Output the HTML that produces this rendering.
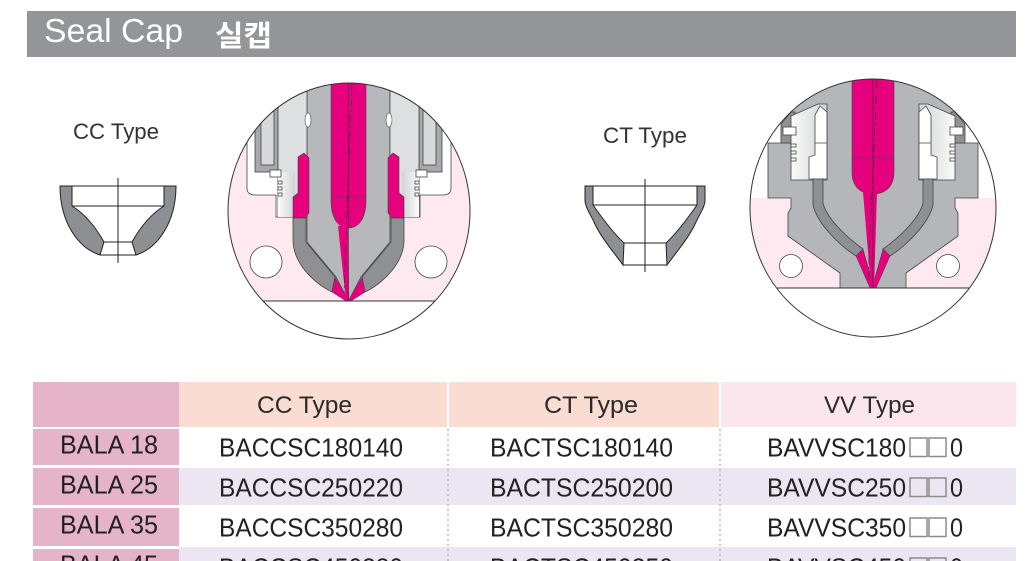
<!DOCTYPE html>
<html><head><meta charset="utf-8"><style>
html,body{margin:0;padding:0;background:#fff;}
svg{display:block;}
text{font-family:"Liberation Sans","Noto Sans CJK KR",sans-serif;}
</style></head><body>
<svg width="1029" height="561" viewBox="0 0 1029 561" xmlns="http://www.w3.org/2000/svg">
<defs>
<clipPath id="c1"><ellipse cx="349" cy="211" rx="121" ry="128"/></clipPath>
<clipPath id="c2"><ellipse cx="873" cy="208" rx="123" ry="129"/></clipPath>
<linearGradient id="lg" x1="0" x2="1" y1="0" y2="0"><stop offset="0" stop-color="#fbfbfb"/><stop offset="1" stop-color="#d2d3d5"/></linearGradient>
</defs>

<!-- Title bar -->
<rect x="27" y="11" width="989" height="46" fill="#939598"/>
<text x="44" y="42" font-size="33" fill="#fff" textLength="139" lengthAdjust="spacingAndGlyphs">Seal Cap</text>
<text x="215" y="46" font-size="29" font-weight="700" fill="#fff" font-family="'Noto Sans CJK KR','NanumGothic',sans-serif" textLength="57" lengthAdjust="spacingAndGlyphs">실캡</text>

<!-- Labels -->
<text x="73" y="139" font-size="22" fill="#333" textLength="86" lengthAdjust="spacingAndGlyphs">CC Type</text>
<text x="603" y="143" font-size="22" fill="#333" textLength="84" lengthAdjust="spacingAndGlyphs">CT Type</text>

<!-- CC cap -->
<g stroke="#222" stroke-width="1" fill="#8d8f92">
<path d="M60,186 H72 V206 C85,214 95,226 104,242 L100,255 C78,248 60,222 60,186 Z"/>
<path d="M176,186 H164 V206 C151,214 141,226 132,242 L136,255 C158,248 176,222 176,186 Z"/>
</g>
<g stroke="#222" stroke-width="1" fill="none">
<path d="M60,186 H176 M72,206 H164 M104,242 H132 M100,255 H136 M118,178 V263"/>
</g>

<!-- CT cap -->
<g stroke="#222" stroke-width="1" fill="#8d8f92">
<path d="M585,186 H593 V205 C600,215 612,232 624,243 L623,265 C612,250 600,236 594,222 C589,212 585,206 585,200 Z"/>
<path d="M705,186 H697 V205 C690,215 678,232 666,243 L667,265 C678,250 690,236 696,222 C701,212 705,206 705,200 Z"/>
</g>
<g stroke="#222" stroke-width="1" fill="none">
<path d="M585,186 H705 M593,205 H697 M624,243 H666 M623,265 H667 M645,179 V272"/>
</g>

<!-- Circle 1 (CC) -->
<g clip-path="url(#c1)">
<rect x="220" y="75" width="260" height="270" fill="#fde9ef"/>
<path d="M220,75 H480 V130 H451 V188 Q451,195 443,195 H420 V217 H276 V195 H255 Q247,195 247,188 V130 H220 Z" fill="#fff" stroke="#444" stroke-width=".8"/>
<path d="M307,70 H390 V242 L361,277 L348.5,301 L336,277 L307,242 Z" fill="#b6b8bb" stroke="#444" stroke-width=".8"/>
<g stroke="#444" stroke-width=".8">
<rect x="255" y="95" width="23" height="77" fill="#a7a9ac"/>
<rect x="261" y="90" width="13" height="75" fill="#d8d9db"/>
<rect x="278" y="70" width="29" height="147" fill="#dedfe1"/>
<rect x="278" y="172" width="17" height="45" fill="url(#lg)" stroke="none"/>
<rect x="270" y="170" width="11" height="7" fill="#fff"/>
<rect x="278" y="181" width="4" height="3" fill="#fff"/>
<rect x="278" y="187" width="4" height="3" fill="#fff"/>
<rect x="278" y="193" width="4" height="3" fill="#fff"/>
<ellipse cx="308" cy="120" rx="3" ry="7" fill="#fff" stroke-width=".6"/>
<path d="M298,157 L304,153 L309,158 V213 L305,218 H293 V197 L298,193 Z" fill="#e6007e" stroke-width=".6"/>
<path d="M293,218 H306 V242 L335,277 L332,292 C312,282 293,262 293,240 Z" fill="#8e9093"/>
<path d="M335,277 L332,292 L346,301 L349,301 Z" fill="#e6007e" stroke-width=".5"/>
<circle cx="266" cy="262" r="16" fill="#fff"/>
</g>
<g transform="translate(697,0) scale(-1,1)" stroke="#444" stroke-width=".8">
<rect x="255" y="95" width="23" height="77" fill="#a7a9ac"/>
<rect x="261" y="90" width="13" height="75" fill="#d8d9db"/>
<rect x="278" y="70" width="29" height="147" fill="#dedfe1"/>
<rect x="278" y="172" width="17" height="45" fill="url(#lg)" stroke="none"/>
<rect x="270" y="170" width="11" height="7" fill="#fff"/>
<rect x="278" y="181" width="4" height="3" fill="#fff"/>
<rect x="278" y="187" width="4" height="3" fill="#fff"/>
<rect x="278" y="193" width="4" height="3" fill="#fff"/>
<ellipse cx="308" cy="120" rx="3" ry="7" fill="#fff" stroke-width=".6"/>
<path d="M298,157 L304,153 L309,158 V213 L305,218 H293 V197 L298,193 Z" fill="#e6007e" stroke-width=".6"/>
<path d="M293,218 H306 V242 L335,277 L332,292 C312,282 293,262 293,240 Z" fill="#8e9093"/>
<path d="M335,277 L332,292 L346,301 L349,301 Z" fill="#e6007e" stroke-width=".5"/>
<circle cx="266" cy="262" r="16" fill="#fff"/>
</g>
<path d="M331,70 H366 V200 C366,221 357,228 348.5,228 C340,228 331,221 331,200 Z" fill="#e6007e" stroke="#444" stroke-width=".6"/>
<polygon points="338,226 348,226 349,301 346,301" fill="#e6007e"/>
<line x1="331" y1="197" x2="366" y2="197" stroke="#444" stroke-width=".6"/>
<line x1="348.5" y1="80" x2="348.5" y2="301" stroke="#333" stroke-width=".6"/>
<line x1="352" y1="83" x2="344" y2="292" stroke="#333" stroke-width=".6" stroke-dasharray="8 3 2 3"/>
<rect x="220" y="301" width="260" height="50" fill="#fff"/>
<line x1="220" y1="301" x2="480" y2="301" stroke="#333" stroke-width="1"/>
</g>
<ellipse cx="349" cy="211" rx="121" ry="128" fill="none" stroke="#333" stroke-width="1"/>

<!-- Circle 2 (CT) -->
<g clip-path="url(#c2)">
<rect x="740" y="70" width="270" height="275" fill="#fff"/>
<rect x="740" y="198" width="270" height="90" fill="#fde9ef"/>
<path d="M768,143 H791 V60 H955 V143 H978 V198 H955 V208 L958,213 V236 L906,273 V288 H840 V273 L788,236 V213 L791,208 V198 H768 Z" fill="#b4b6b9" stroke="#444" stroke-width=".8"/>
<g stroke="#444" stroke-width=".8">
<path d="M781,143 V124 L791,112 H795 V143 Z" fill="#8f9194"/>
<path d="M791,116 L818,104 H827 V180 H791 Z" fill="url(#lg)"/>
<rect x="783" y="127" width="13" height="8" fill="#fff"/>
<rect x="791" y="144" width="5" height="3" fill="#fff"/>
<rect x="791" y="151" width="5" height="3" fill="#fff"/>
<rect x="791" y="158" width="5" height="3" fill="#fff"/>
<path d="M815,115 L820,106 L827,112 V179 H809 V157 L815,155 Z" fill="#fff"/>
<path d="M815,143 H827" fill="none"/>
<path d="M813,179 H823 V203 C826,216 842,234 863,249 L856,256 C836,243 817,222 813,205 Z" fill="#8e9093"/>
<path d="M856,256 L863,249 L874,288 L870,288 Z" fill="#e6007e" stroke-width=".5"/>
</g>
<g transform="translate(1746,0) scale(-1,1)" stroke="#444" stroke-width=".8">
<path d="M781,143 V124 L791,112 H795 V143 Z" fill="#8f9194"/>
<path d="M791,116 L818,104 H827 V180 H791 Z" fill="url(#lg)"/>
<rect x="783" y="127" width="13" height="8" fill="#fff"/>
<rect x="791" y="144" width="5" height="3" fill="#fff"/>
<rect x="791" y="151" width="5" height="3" fill="#fff"/>
<rect x="791" y="158" width="5" height="3" fill="#fff"/>
<path d="M815,115 L820,106 L827,112 V179 H809 V157 L815,155 Z" fill="#fff"/>
<path d="M815,143 H827" fill="none"/>
<path d="M813,179 H823 V203 C826,216 842,234 863,249 L856,256 C836,243 817,222 813,205 Z" fill="#8e9093"/>
<path d="M856,256 L863,249 L874,288 L870,288 Z" fill="#e6007e" stroke-width=".5"/>
</g>
<path d="M852,70 H894 V172 C894,188 884,194 873,194 C862,194 852,188 852,172 Z" fill="#e6007e" stroke="#444" stroke-width=".6"/>
<polygon points="863,192 877,192 874,288 871,288" fill="#e6007e"/>
<line x1="852" y1="158" x2="894" y2="158" stroke="#444" stroke-width=".6"/>
<line x1="873" y1="75" x2="873" y2="288" stroke="#333" stroke-width=".6"/>
<line x1="877" y1="80" x2="868" y2="282" stroke="#333" stroke-width=".6" stroke-dasharray="8 3 2 3"/>
<circle cx="791" cy="266" r="11.5" fill="#fff" stroke="#444" stroke-width=".8"/>
<circle cx="948" cy="266" r="11.5" fill="#fff" stroke="#444" stroke-width=".8"/>
<rect x="740" y="288" width="270" height="60" fill="#fff"/>
<line x1="740" y1="288" x2="1010" y2="288" stroke="#333" stroke-width="1"/>
</g>
<ellipse cx="873" cy="208" rx="123" ry="129" fill="none" stroke="#333" stroke-width="1"/>

<!-- Table -->
<rect x="33" y="382" width="146" height="45" fill="#e6b4c8"/>
<rect x="179" y="382" width="268" height="45" fill="#fadcd2"/>
<rect x="449" y="382" width="270" height="45" fill="#fadcd2"/>
<rect x="721" y="382" width="295" height="45" fill="#fce6ee"/>
<rect x="179" y="468" width="837" height="37" fill="#ece6f2"/>
<rect x="179" y="547" width="837" height="14" fill="#ece6f2"/>
<rect x="33" y="429" width="146" height="36" fill="#e6b4c8"/>
<rect x="33" y="468" width="146" height="37" fill="#e6b4c8"/>
<rect x="33" y="508" width="146" height="38" fill="#e6b4c8"/>
<rect x="33" y="549" width="146" height="12" fill="#e6b4c8"/>
<line x1="448" y1="429" x2="448" y2="561" stroke="#9a9a9a" stroke-width="1" stroke-dasharray="2 3"/>
<line x1="720" y1="429" x2="720" y2="561" stroke="#9a9a9a" stroke-width="1" stroke-dasharray="2 3"/>

<g font-size="24" fill="#2a2a2a">
<text x="257" y="413" textLength="95" lengthAdjust="spacingAndGlyphs">CC Type</text>
<text x="544" y="413" textLength="94" lengthAdjust="spacingAndGlyphs">CT Type</text>
<text x="824" y="413" textLength="91" lengthAdjust="spacingAndGlyphs">VV Type</text>
</g>

<g font-size="26" fill="#222">
<text x="60" y="453.3" textLength="98" lengthAdjust="spacingAndGlyphs">BALA 18</text>
<text x="60" y="493.3" textLength="98" lengthAdjust="spacingAndGlyphs">BALA 25</text>
<text x="60" y="533.3" textLength="98" lengthAdjust="spacingAndGlyphs">BALA 35</text>
<text x="60" y="573.3" textLength="98" lengthAdjust="spacingAndGlyphs">BALA 45</text>

<text x="219" y="456.5" textLength="184" lengthAdjust="spacingAndGlyphs">BACCSC180140</text>
<text x="219" y="496.5" textLength="184" lengthAdjust="spacingAndGlyphs">BACCSC250220</text>
<text x="219" y="536.5" textLength="184" lengthAdjust="spacingAndGlyphs">BACCSC350280</text>
<text x="219" y="576.5" textLength="184" lengthAdjust="spacingAndGlyphs">BACCSC450380</text>

<text x="490" y="456.5" textLength="183" lengthAdjust="spacingAndGlyphs">BACTSC180140</text>
<text x="490" y="496.5" textLength="183" lengthAdjust="spacingAndGlyphs">BACTSC250200</text>
<text x="490" y="536.5" textLength="183" lengthAdjust="spacingAndGlyphs">BACTSC350280</text>
<text x="490" y="576.5" textLength="183" lengthAdjust="spacingAndGlyphs">BACTSC450350</text>

<text x="767" y="456.5" textLength="139" lengthAdjust="spacingAndGlyphs">BAVVSC180</text>
<text x="767" y="496.5" textLength="139" lengthAdjust="spacingAndGlyphs">BAVVSC250</text>
<text x="767" y="536.5" textLength="139" lengthAdjust="spacingAndGlyphs">BAVVSC350</text>
<text x="767" y="576.5" textLength="139" lengthAdjust="spacingAndGlyphs">BAVVSC450</text>

<text x="950" y="456.5" textLength="13" lengthAdjust="spacingAndGlyphs">0</text>
<text x="950" y="496.5" textLength="13" lengthAdjust="spacingAndGlyphs">0</text>
<text x="950" y="536.5" textLength="13" lengthAdjust="spacingAndGlyphs">0</text>
<text x="950" y="576.5" textLength="13" lengthAdjust="spacingAndGlyphs">0</text>
</g>
<g fill="none" stroke="#8c8c8c" stroke-width="1.5">
<rect x="910" y="438" width="17" height="18.5"/><rect x="929" y="438" width="17" height="18.5"/>
<rect x="910" y="478" width="17" height="18.5"/><rect x="929" y="478" width="17" height="18.5"/>
<rect x="910" y="518" width="17" height="18.5"/><rect x="929" y="518" width="17" height="18.5"/>
<rect x="910" y="558" width="17" height="18.5"/><rect x="929" y="558" width="17" height="18.5"/>
</g>
</svg>
</body></html>
